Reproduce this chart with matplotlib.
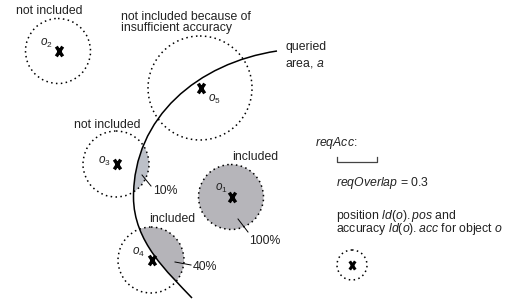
import matplotlib
matplotlib.use("Agg")
import matplotlib.pyplot as plt
from matplotlib.path import Path
from matplotlib.patches import Circle, PathPatch
import numpy as np

plt.rcParams['font.family'] = ['Liberation Sans', 'DejaVu Sans']
plt.rcParams['mathtext.fontset'] = 'custom'
plt.rcParams['mathtext.rm'] = 'Liberation Sans'
plt.rcParams['mathtext.it'] = 'Liberation Sans:italic'

# objects: name, centre, accuracy radius (pixels of the sketch)
obj_names = ['o_1', 'o_2', 'o_3', 'o_4', 'o_5']
obj_x = [231, 58, 116, 151, 200]
obj_y = [197, 51, 164, 260, 88]
obj_r = [32.5, 32.5, 33, 33, 52]
obj_fill = ['#b6b5ba', None, '#bcc0c8', '#b5b4b9', None]
# offset of the o_i label from the object position
label_dx = [-10, -12, -12, -13, 14]
label_dy = [-9, -8, -3, -8, 11]

# queried area boundary (two cubic bezier pieces)
curve_pts = [(277, 51), (198, 63), (133.5, 117), (133.5, 197),
             (133.5, 242), (168, 272.5), (192, 298)]

# overlap annotations: text, text pos, leader start, leader end
pct_labels = ['10%', '100%', '40%']
pct_pos = [(153, 193.5), (249, 243.5), (193, 270.5)]
pct_lead = [((142, 175), (151, 186)), ((238, 219), (248, 232)), ((175, 262), (191, 265))]

texts = [
    ("not included", 16, 14.5),
    ("not included because of", 121, 19.5),
    ("insufficient accuracy", 121, 30.5),
    ("queried", 285, 50),
    ("area, $\\mathit{a}$", 285, 66),
    ("not included", 74, 127.5),
    ("included", 232, 160),
    ("included", 149, 222),
    ("$\\mathit{reqAcc}$:", 315, 146),
    ("$\\mathit{reqOverlap}$ = 0.3", 336, 186),
]
legend_text = ("position $\\mathit{ld(o).pos}$ and\n"
               "accuracy $\\mathit{ld(o).acc}$ for object $\\mathit{o}$")

legend_obj = (352, 265, 15)
txt_color = '#222222'

fig = plt.figure(figsize=(5.19, 3.03), dpi=100)
ax = fig.add_axes([0, 0, 1, 1])
ax.set_xlim(0, 519)
ax.set_ylim(303, 0)
ax.axis('off')

# cross marker, a bit taller than wide
xmark = Path([(-0.33, -0.5), (0.33, 0.5), (-0.33, 0.5), (0.33, -0.5)],
             [Path.MOVETO, Path.LINETO, Path.MOVETO, Path.LINETO])

codes = [Path.MOVETO] + [Path.CURVE4] * 6
curve = Path(curve_pts, codes)
area = Path(curve_pts + [(700, 420), (700, 51), curve_pts[0]],
            codes + [Path.LINETO, Path.LINETO, Path.CLOSEPOLY])
area_patch = PathPatch(area, facecolor='none', edgecolor='none')
ax.add_patch(area_patch)

for i in range(len(obj_names)):
    if obj_fill[i] is not None:
        fill = Circle((obj_x[i], obj_y[i]), obj_r[i], facecolor=obj_fill[i],
                      edgecolor='none', zorder=1)
        ax.add_patch(fill)
        fill.set_clip_path(area_patch)
    ax.add_patch(Circle((obj_x[i], obj_y[i]), obj_r[i], fill=False, edgecolor='black',
                        lw=1.1, linestyle=(0, (1, 2.2)), zorder=2))
    ax.plot(obj_x[i] + 1, obj_y[i], marker=xmark, ms=7, mew=2.5, color='black',
            zorder=4)
    ax.text(obj_x[i] + label_dx[i], obj_y[i] + label_dy[i], f"$\\mathit{{{obj_names[i]}}}$",
            fontsize=8.5, ha='center', va='center', color=txt_color, zorder=5)

ax.add_patch(PathPatch(curve, facecolor='none', edgecolor='black', lw=1.1, zorder=3))

for lab, (tx, ty), (p0, p1) in zip(pct_labels, pct_pos, pct_lead):
    ax.plot([p0[0], p1[0]], [p0[1], p1[1]], color='black', lw=0.7, zorder=5)
    ax.text(tx, ty, lab, fontsize=8.8, va='baseline', ha='left', color=txt_color)

for s, x, y in texts:
    ax.text(x, y, s, fontsize=8.8, va='baseline', ha='left', color=txt_color)

ax.text(336, 207.5, legend_text, fontsize=8.8, va='top', ha='left',
        linespacing=0.8, color=txt_color)

# reqAcc scale bracket
ax.plot([336.5, 336.5, 377, 377], [157, 162, 162, 157], color='#444444', lw=0.9)

# legend object
lx, ly, lr = legend_obj
ax.add_patch(Circle((lx, ly), lr, fill=False, edgecolor='black', lw=1.1,
                    linestyle=(0, (1, 2.2))))
ax.plot(lx, ly, marker=xmark, ms=6, mew=2.2, color='black')

fig.savefig('out.png', dpi=100)
